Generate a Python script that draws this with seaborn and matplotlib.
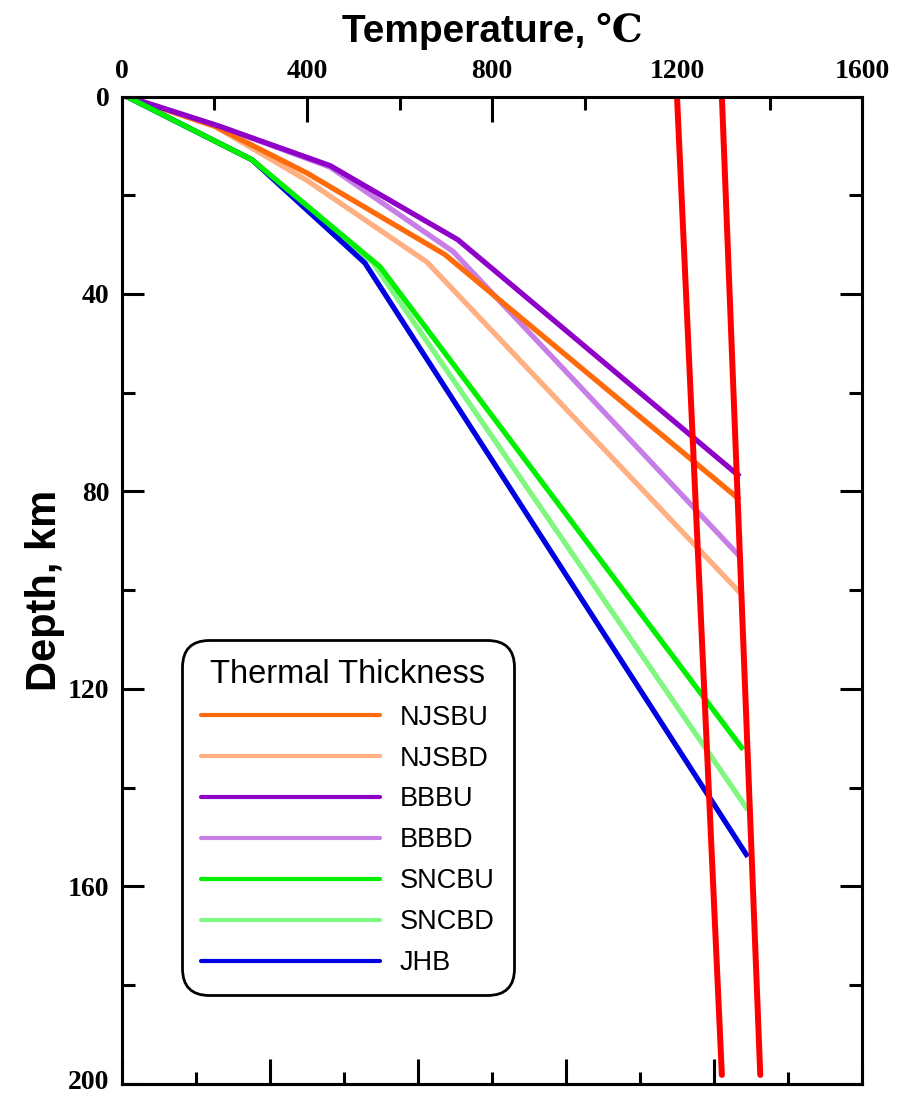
import matplotlib
matplotlib.use('Agg')
import matplotlib.pyplot as plt
import matplotlib.transforms as mtransforms
import seaborn as sns
import pandas as pd
import numpy as np
from matplotlib.ticker import MultipleLocator, NullFormatter

# Geotherms: temperature (C) and depth (km)
names = ['NJSBU', 'NJSBD', 'BBBU', 'BBBD', 'SNCBU', 'SNCBD', 'JHB']
temps = {
    'NJSBU': [10, 200, 400, 698, 1336],
    'NJSBD': [10, 200, 400, 659, 1336],
    'BBBU':  [10, 210, 450, 726, 1336],
    'BBBD':  [10, 210, 450, 716, 1336],
    'SNCBU': [10, 281, 558, 1343],
    'SNCBD': [10, 281, 543, 1353],
    'JHB':   [10, 281, 525, 1353],
}
depths = {
    'NJSBU': [0, 6, 15.5, 32, 81.7],
    'NJSBD': [0, 6, 17, 33.5, 100.5],
    'BBBU':  [0, 6, 14, 29, 77],
    'BBBD':  [0, 6, 14.3, 31.4, 93.2],
    'SNCBU': [0, 12.8, 34.5, 132.3],
    'SNCBD': [0, 12.8, 33.7, 144.5],
    'JHB':   [0, 12.8, 33.7, 154],
}
colors = {
    'NJSBU': '#ff6a0a', 'NJSBD': '#ffb083', 'BBBU': '#8f00c8',
    'BBBD': '#c77ee6', 'SNCBU': '#00f000', 'SNCBD': '#80f780', 'JHB': '#0000e0',
}

# Red reference lines (solidus/adiabat)
red_temps = [[1200, 1297], [1297, 1380]]
red_depths = [[0, 198.2], [0, 198.2]]

sns.set_style('ticks')
plt.rcParams['axes.linewidth'] = 2.2
for k in ['text.color', 'axes.labelcolor', 'xtick.color', 'ytick.color', 'axes.edgecolor']:
    plt.rcParams[k] = 'black'

fig = plt.figure(figsize=(8.97, 10.97), dpi=100, facecolor='white')
ax = fig.add_axes([0.136, 0.012, 0.825, 0.9])
ax.set_facecolor('white')

# draw light ones first so the dark ones sit on top
draw_order = ['NJSBD', 'BBBD', 'NJSBU', 'BBBU', 'SNCBD', 'JHB', 'SNCBU']
for name in draw_order:
    df = pd.DataFrame({'T': temps[name], 'D': depths[name]})
    sns.lineplot(data=df, x='T', y='D', sort=False, color=colors[name],
                 linewidth=3.8, ax=ax, label=name, solid_capstyle='butt')

for t, d in zip(red_temps, red_depths):
    df = pd.DataFrame({'T': t, 'D': d})
    sns.lineplot(data=df, x='T', y='D', sort=False, color='#ff0000',
                 linewidth=4.3, ax=ax, legend=False)

ax.set_xlim(0, 1600)
ax.set_ylim(200, 0)

# top axis with labels
ax.xaxis.tick_top()
ax.xaxis.set_label_position('top')
ax.xaxis.set_major_locator(MultipleLocator(400))
ax.xaxis.set_minor_locator(MultipleLocator(200))
ax.yaxis.set_major_locator(MultipleLocator(40))
ax.yaxis.set_minor_locator(MultipleLocator(20))
ax.tick_params(axis='x', which='major', direction='in', length=18, width=2.2, pad=9,
               top=True, bottom=False)
ax.tick_params(axis='x', which='minor', direction='in', length=9.5, width=2.2,
               top=True, bottom=False)
ax.tick_params(axis='y', which='major', direction='in', length=16, width=2.2, pad=9,
               left=True, right=True)
ax.tick_params(axis='y', which='minor', direction='in', length=9.5, width=2.2,
               left=True, right=True)
for lab in ax.get_xticklabels() + ax.get_yticklabels():
    lab.set_fontfamily('Liberation Serif')
    lab.set_fontweight('bold')
    lab.set_fontsize(20)
    lab.set_color('black')

# nudge the bottom "200" label up a little so it stays inside the figure
fig.canvas.draw()
ytl = [l for l in ax.get_yticklabels() if l.get_text() == '200']
for l in ytl:
    l.set_transform(l.get_transform() +
                    mtransforms.ScaledTranslation(0, 3 / 72, fig.dpi_scale_trans))

# bottom axis: unlabelled ticks every 160
sec = ax.secondary_xaxis('bottom')
sec.xaxis.set_major_locator(MultipleLocator(320))
sec.xaxis.set_minor_locator(MultipleLocator(160))
sec.xaxis.set_major_formatter(NullFormatter())
sec.tick_params(axis='x', which='major', direction='in', length=18, width=2.2)
sec.tick_params(axis='x', which='minor', direction='in', length=9, width=2.2)
sec.spines['bottom'].set_linewidth(2.2)

for s in ax.spines.values():
    s.set_linewidth(2.2)
    s.set_color('black')

ax.set_xlabel('Temperature, \u2103', fontsize=28, fontweight='bold', color='black',
              family=['Liberation Sans', 'DejaVu Serif'], labelpad=12)
ax.set_ylabel('Depth, km', fontsize=30, fontweight='bold', color='black',
              family='Liberation Sans', labelpad=2)

# legend in the listed order
lines = {l.get_label(): l for l in ax.get_lines()}
leg = ax.legend([lines[n] for n in names], names, title='Thermal Thickness',
                loc='lower left', bbox_to_anchor=(0.081, 0.090), borderaxespad=0,
                frameon=True, fancybox=True, edgecolor='black', framealpha=1,
                prop={'family': 'Liberation Sans', 'size': 19.5},
                title_fontproperties={'family': 'Liberation Sans', 'size': 23.5},
                handlelength=6.6, handletextpad=0.75, labelspacing=0.55,
                borderpad=0.7, alignment='center')
leg.get_frame().set_linewidth(2.0)
leg.get_frame().set_boxstyle('round', pad=0.0, rounding_size=1.0)
for h in leg.get_lines():
    h.set_linewidth(3.0)
    h.set_solid_capstyle('round')
for t in leg.get_texts() + [leg.get_title()]:
    t.set_color('black')

fig.savefig('out.png', dpi=100, facecolor='white')
